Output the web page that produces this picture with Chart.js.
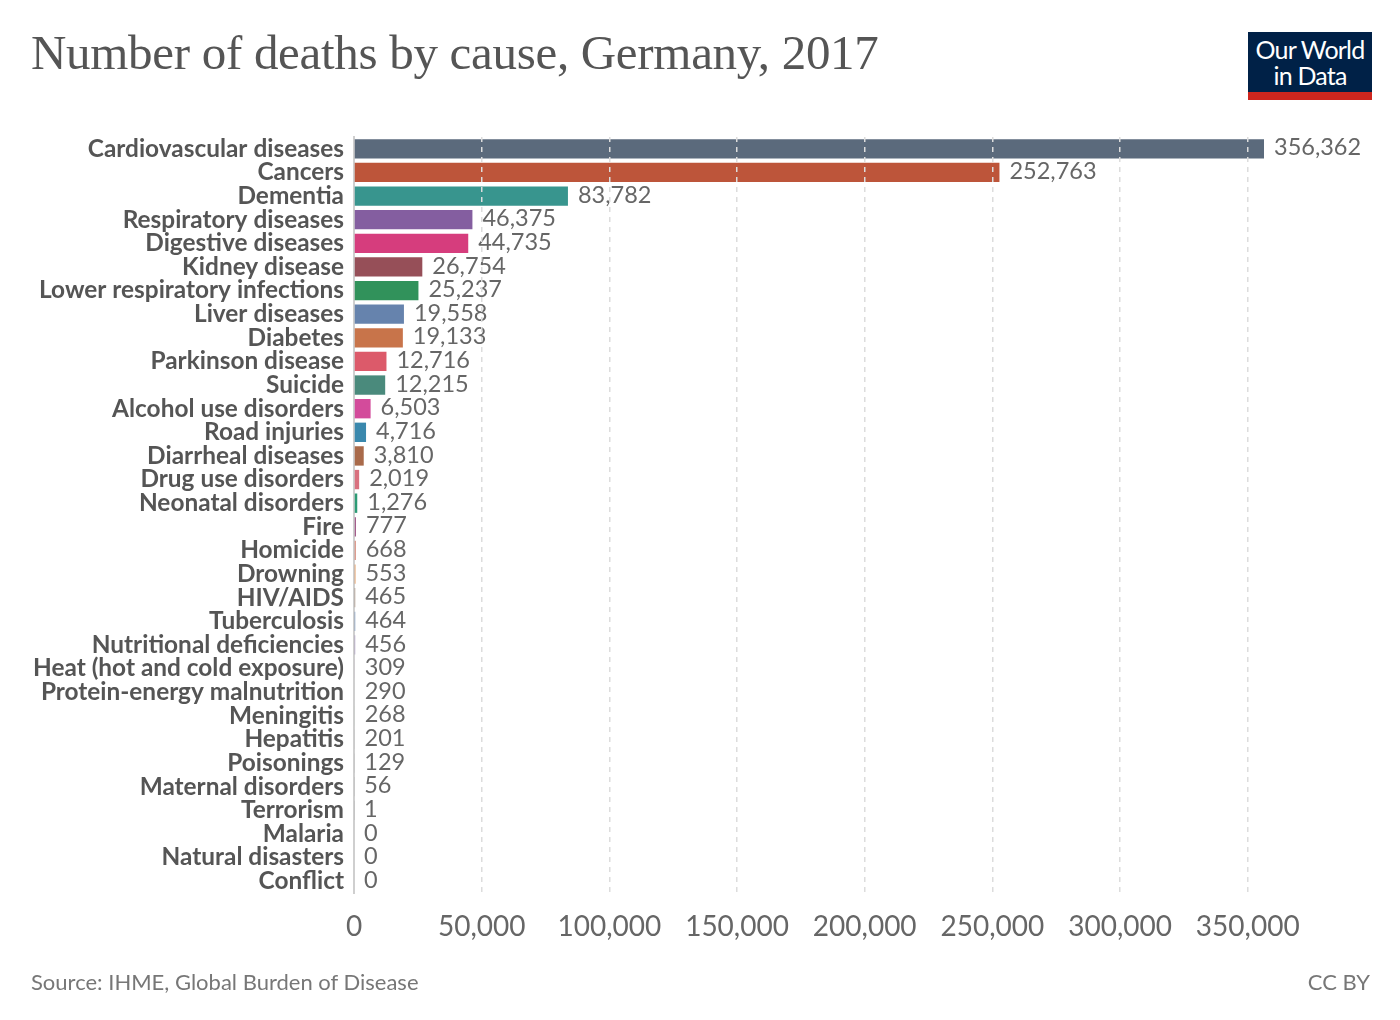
<!DOCTYPE html>
<html>
<head>
<meta charset="utf-8">
<script src="https://cdn.jsdelivr.net/npm/chart.js@4/dist/chart.umd.min.js"></script>
<style>
  html, body { margin: 0; padding: 0; background: #fff; }
  body { width: 1400px; height: 1020px; position: relative; overflow: hidden; font-family: Lato, sans-serif; }
  #title { position: absolute; left: 31px; top: 24px; font-family: "Liberation Serif", serif; font-size: 49px; color: #555; letter-spacing: -0.3px; }
  #logo { position: absolute; left: 1248px; top: 32px; width: 124px; height: 68px; background: #002147; color: #fff; font-family: Lato, sans-serif; font-size: 25px; line-height: 26px; text-align: center; box-sizing: border-box; padding-top: 4px; letter-spacing: -0.8px; }
  #logo .bar { position: absolute; left: 0; bottom: 0; width: 100%; height: 8px; background: #ce261e; }
  #source { position: absolute; left: 31px; top: 968px; font-size: 22px; color: #777; }
  #cc { position: absolute; right: 30px; top: 968px; font-size: 22px; color: #777; }
  #wrap { position: absolute; left: 0; top: 0; width: 1400px; height: 1020px; }
</style>
</head>
<body>
<div id="wrap"><canvas id="chart"></canvas></div>
<div id="title">Number of deaths by cause, Germany, 2017</div>
<div id="logo">Our World<br>in Data<div class="bar"></div></div>
<div id="source">Source: IHME, Global Burden of Disease</div>
<div id="cc">CC BY</div>
<script>
// Kategorien und Werte
const causes = [
  'Cardiovascular diseases', 'Cancers', 'Dementia', 'Respiratory diseases',
  'Digestive diseases', 'Kidney disease', 'Lower respiratory infections',
  'Liver diseases', 'Diabetes', 'Parkinson disease', 'Suicide',
  'Alcohol use disorders', 'Road injuries', 'Diarrheal diseases',
  'Drug use disorders', 'Neonatal disorders', 'Fire', 'Homicide', 'Drowning',
  'HIV/AIDS', 'Tuberculosis', 'Nutritional deficiencies',
  'Heat (hot and cold exposure)', 'Protein-energy malnutrition', 'Meningitis',
  'Hepatitis', 'Poisonings', 'Maternal disorders', 'Terrorism', 'Malaria',
  'Natural disasters', 'Conflict'
];
const deaths = [
  356362, 252763, 83782, 46375, 44735, 26754, 25237, 19558, 19133, 12716,
  12215, 6503, 4716, 3810, 2019, 1276, 777, 668, 553, 465, 464, 456, 309,
  290, 268, 201, 129, 56, 1, 0, 0, 0
];
const barColors = [
  '#5b6a7c', '#bd553a', '#38958e', '#845ea0', '#d63d7d', '#964f58', '#31925b',
  '#6683ad', '#c8744a', '#dc5a6a', '#4a8a7c', '#d34b9b', '#3a88ad', '#a96a4a',
  '#d9717f', '#2c9b75', '#a35b8a', '#d07461', '#e0853e', '#8c6d55', '#4a72a6',
  '#8b75ad', '#c88ac1', '#b0b0b0', '#a3c2a3', '#bbbbbb', '#c0c0c0', '#c0c0c0',
  '#c0c0c0', '#c0c0c0', '#c0c0c0', '#c0c0c0'
];
const xTicks = [0, 50000, 100000, 150000, 200000, 250000, 300000, 350000];

const fmt = v => v.toLocaleString('en-US');

// Werte-Beschriftung rechts neben den Balken
const valueLabels = {
  id: 'valueLabels',
  afterDatasetsDraw(chart) {
    const ctx = chart.ctx;
    const meta = chart.getDatasetMeta(0);
    ctx.save();
    ctx.font = '23.5px Lato';
    ctx.fillStyle = '#666';
    ctx.textAlign = 'left';
    ctx.textBaseline = 'middle';
    meta.data.forEach((bar, i) => {
      ctx.fillText(fmt(deaths[i]), bar.x + 10, bar.y - 1);
    });
    ctx.restore();
  }
};

new Chart(document.getElementById('chart'), {
  type: 'bar',
  data: {
    labels: causes,
    datasets: [{
      data: deaths,
      backgroundColor: barColors,
      borderWidth: 0,
      barPercentage: 0.82,
      categoryPercentage: 1
    }]
  },
  options: {
    indexAxis: 'y',
    responsive: true,
    maintainAspectRatio: false,
    animation: false,
    layout: { padding: { top: 137, right: 136, bottom: 67, left: 0 } },
    plugins: {
      legend: { display: false },
      tooltip: { enabled: false }
    },
    scales: {
      x: {
        min: 0,
        max: 356362,
        afterBuildTicks: scale => { scale.ticks = xTicks.map(v => ({ value: v })); },
        afterFit: scale => { scale.height = 60; },
        grid: {
          color: c => (c.tick && c.tick.value === 0) ? 'rgba(0,0,0,0)' : '#dcdcdc',
          lineWidth: 1.5,
          drawTicks: false,
          z: 1
        },
        border: { display: false, dash: [5, 5] },
        ticks: {
          color: '#666',
          font: { family: 'Lato', size: 28 },
          padding: 17,
          maxRotation: 0,
          callback: v => fmt(v)
        }
      },
      y: {
        afterFit: scale => { scale.width = 354; },
        grid: { display: false, drawTicks: false },
        border: { display: true, color: '#cfcfcf', width: 2 },
        ticks: {
          color: '#555',
          font: { family: 'Lato', size: 24.4, weight: 'bold' },
          padding: 10,
          autoSkip: false
        }
      }
    }
  },
  plugins: [valueLabels]
});
</script>
</body>
</html>
